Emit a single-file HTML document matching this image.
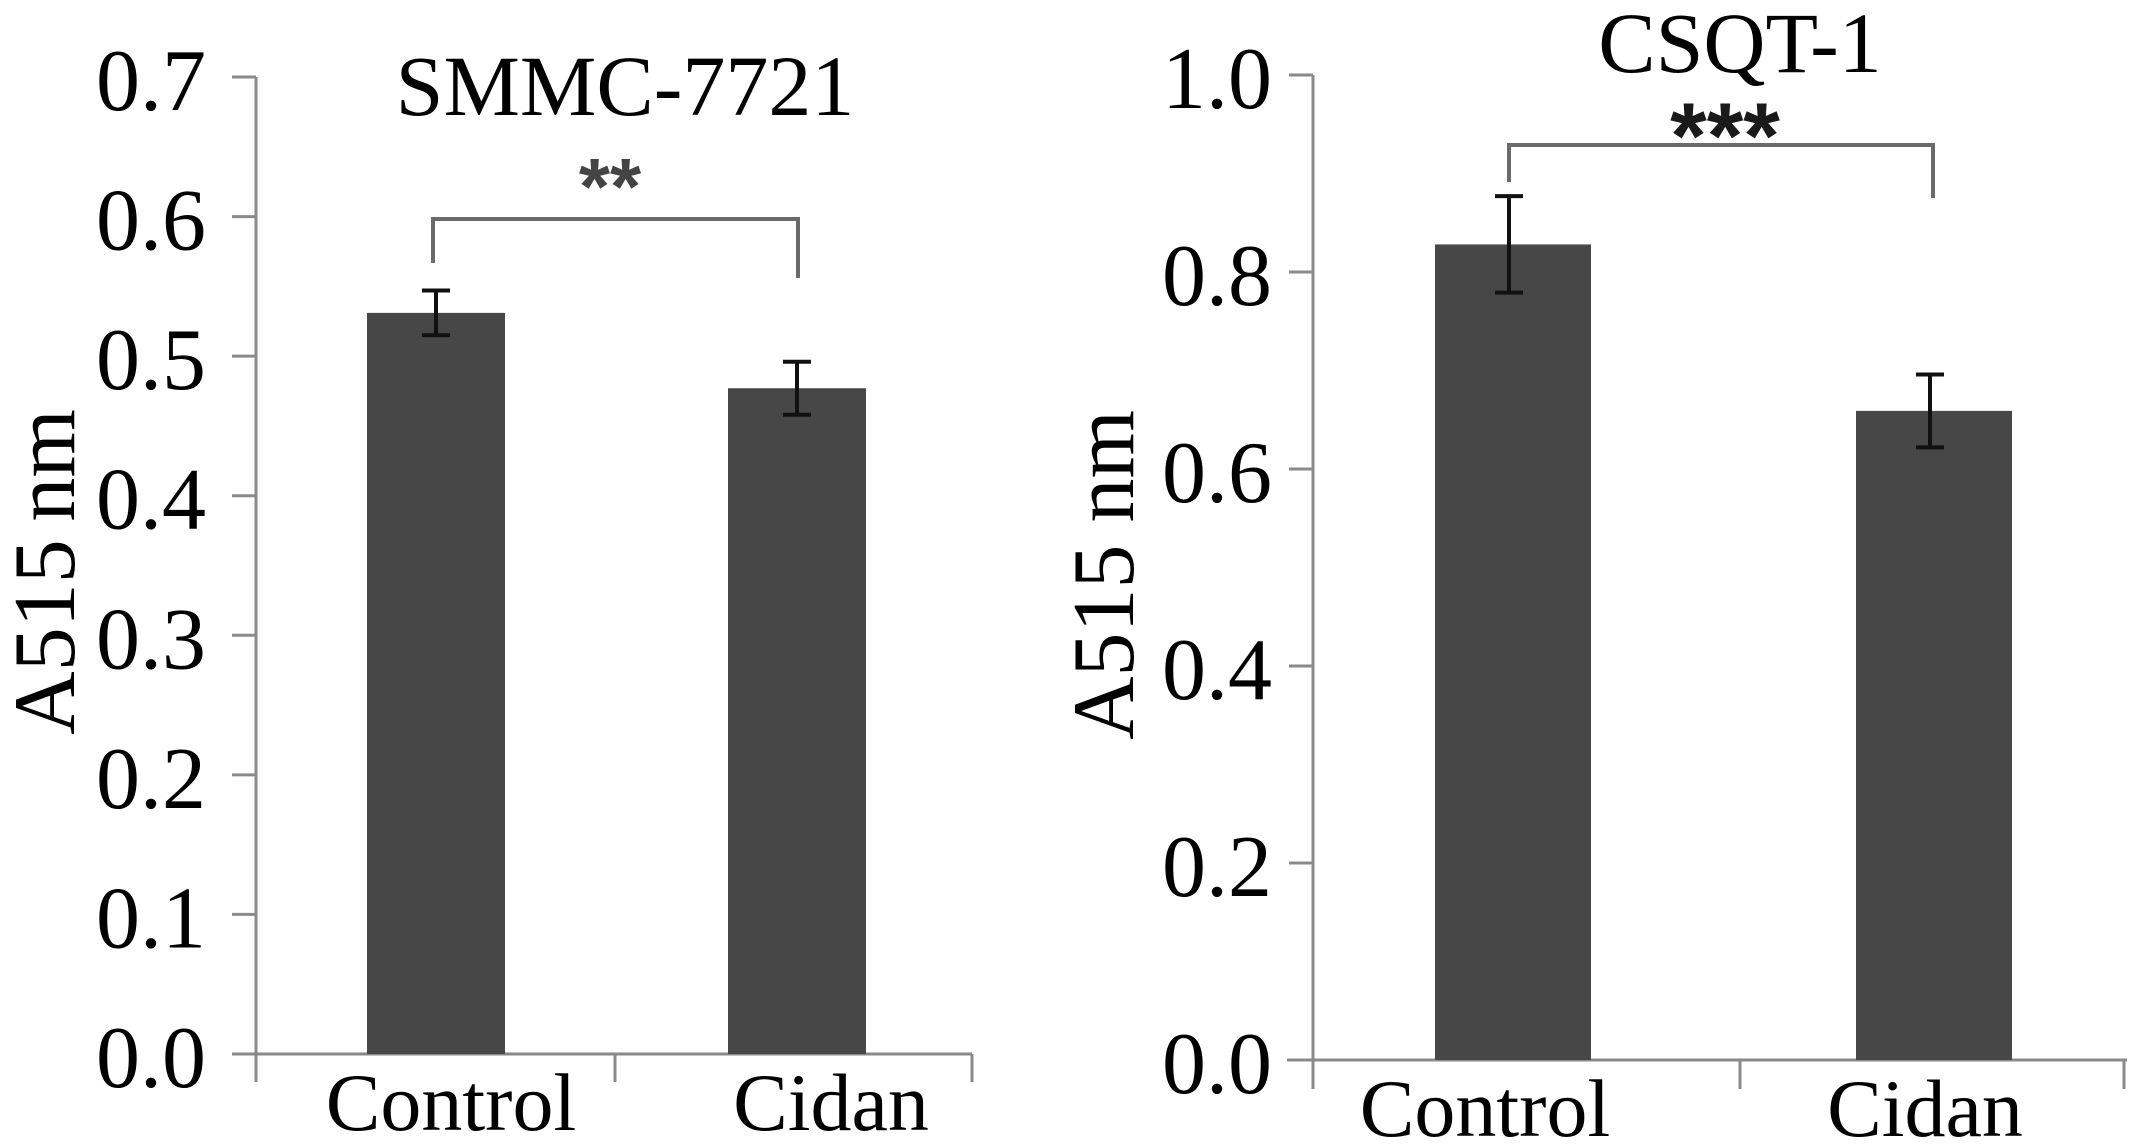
<!DOCTYPE html>
<html><head><meta charset="utf-8"><style>
html,body{margin:0;padding:0;background:#fff;}
svg{display:block;font-family:"Liberation Serif",serif;}
</style></head><body>
<svg id="chart" width="2150" height="1146" viewBox="0 0 2150 1146" xmlns="http://www.w3.org/2000/svg"></svg>
<script>
const categories = ["Control","Cidan"];
const leftValues = [0.531, 0.477];
const leftErrors = [0.016, 0.019];
const leftTicks = ["0.0","0.1","0.2","0.3","0.4","0.5","0.6","0.7"];
const rightValues = [0.828, 0.659];
const rightErrors = [0.049, 0.037];
const rightTicks = ["0.0","0.2","0.4","0.6","0.8","1.0"];
const titles = ["SMMC-7721","CSQT-1"];
const sigLabels = ["**","***"];

const NS="http://www.w3.org/2000/svg";
const svg=document.getElementById('chart');
function mk(tag,attrs,parent,text){const e=document.createElementNS(NS,tag);for(const k in attrs)e.setAttribute(k,attrs[k]);if(text!==undefined)e.textContent=text;(parent||svg).appendChild(e);return e;}

function panel(cfg){
  const g=mk('g',{});
  
  
  const y=v=>cfg.y0-(v/cfg.max)*(cfg.y0-cfg.yTop);
  const ax='#8a8a8a';
  const yaxis=mk('line',{x1:cfg.ax,y1:cfg.yTop,x2:cfg.ax,y2:cfg.tickBottom,stroke:ax,'stroke-width':3},g);
  
  
  const xaxis=mk('line',{x1:cfg.xStart,y1:cfg.y0,x2:cfg.xEnd,y2:cfg.y0,stroke:ax,'stroke-width':3},g);
  
  
  cfg.xTicks.forEach(x=>{mk('line',{x1:x,y1:cfg.y0,x2:x,y2:cfg.tickBottom,stroke:ax,'stroke-width':3},g);});
  cfg.ticks.forEach(t=>{
    const v=parseFloat(t),yy=y(v);
    mk('line',{x1:cfg.ax-24,y1:yy,x2:cfg.ax,y2:yy,stroke:ax,'stroke-width':3},g);
    const tl=mk('text',{x:cfg.tickRight,y:yy+33,'text-anchor':'end','font-size':88,fill:'#000'},g,t);
    
    
  });
  cfg.values.forEach((v,i)=>{
    const cx=cfg.cx[i],w=cfg.bw;
    const b=mk('rect',{x:cx-w/2,y:y(v),width:w,height:cfg.y0-y(v),fill:'#474747'},g);
    
    
    const e=cfg.errors[i],ex=cx-cfg.errShift;
    const eg=mk('g',{stroke:'#111','stroke-width':4},g);
    
    
    mk('line',{x1:ex,y1:y(v+e),x2:ex,y2:y(v-e)},eg);
    mk('line',{x1:ex-14,y1:y(v+e),x2:ex+14,y2:y(v+e)},eg);
    mk('line',{x1:ex-14,y1:y(v-e),x2:ex+14,y2:y(v-e)},eg);
    const xl=mk('text',{x:cfg.lblX[i],y:cfg.lblY,'text-anchor':'middle','font-size':82,fill:'#000'},g,categories[i]);
    
    
  });
  const br=mk('polyline',{points:`${cfg.br[0]},${cfg.br[3]} ${cfg.br[0]},${cfg.br[2]} ${cfg.br[1]},${cfg.br[2]} ${cfg.br[1]},${cfg.br[4]}`,fill:'none',stroke:'#6a6a6a','stroke-width':4},g);
  
  
  const st=mk('text',{x:cfg.starX,y:cfg.starY,'text-anchor':'middle','font-size':cfg.starSize,'font-weight':'bold',fill:cfg.starColor,'font-family':'Liberation Sans, sans-serif'},g,cfg.sig);
  
  
  const ti=mk('text',{x:cfg.titleX,y:cfg.titleY,'text-anchor':'middle','font-size':86,fill:'#000'},g,cfg.title);
  
  
  const yl=mk('text',{x:0,y:0,'text-anchor':'middle','font-size':88,fill:'#000',transform:`translate(${cfg.ylX},${cfg.ylY}) rotate(-90)`},g,cfg.ylText);
  
  
}

panel({name:'panel-smmc-7721',ax:256,y0:1054,yTop:77,max:0.7,xStart:233,xEnd:972,xTicks:[256,615,972],tickBottom:1082,
  tickRight:206,ticks:leftTicks,values:leftValues,errors:leftErrors,cx:[436,797],bw:138,errShift:0,
  lblX:[451,831],lblY:1130,
  br:[433,798,219,263,278],starX:610,starY:214,starSize:80,starColor:'#444',sig:sigLabels[0],
  title:titles[0],titleX:625,titleY:115,ylX:74,ylY:572,ylText:'A515\u2009nm'});
panel({name:'panel-csqt-1',ax:1313,y0:1060,yTop:75,max:1.0,xStart:1287,xEnd:2127,xTicks:[1313,1740,2124],tickBottom:1089,
  tickRight:1272,ticks:rightTicks,values:rightValues,errors:rightErrors,cx:[1513,1934],bw:156,errShift:4,
  lblX:[1485,1925],lblY:1136,
  br:[1509,1933,145,182,198],starX:1725,starY:168,starSize:94,starColor:'#1a1a1a',sig:sigLabels[1],
  title:titles[1],titleX:1740,titleY:72,ylX:1133,ylY:575,ylText:'A515 nm'});
</script>
</body></html>
